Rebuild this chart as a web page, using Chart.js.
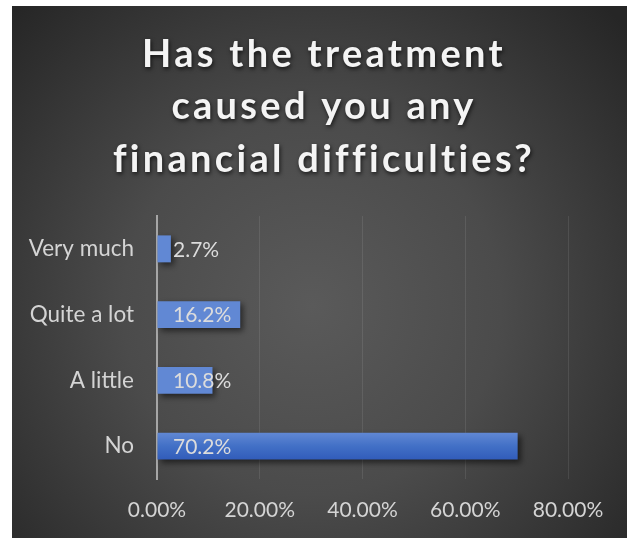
<!DOCTYPE html>
<html>
<head>
<meta charset="utf-8">
<script src="https://cdn.jsdelivr.net/npm/chart.js@4/dist/chart.umd.min.js"></script>
<style>
  html, body { margin: 0; padding: 0; background: #ffffff; }
  #wrap { position: absolute; left: 12px; top: 6px; width: 615px; height: 532px; }
</style>
</head>
<body>
<div id="wrap"><canvas id="chart"></canvas></div>
<script>
// Survey answers, shares in percent
const titleLines = ['Has the treatment', 'caused you any', 'financial difficulties?'];
const categories = ['Very much', 'Quite a lot', 'A little', 'No'];
const shares = [2.7, 16.2, 10.8, 70.2];
const shareLabels = ['2.7%', '16.2%', '10.8%', '70.2%'];
const axisTicks = [0, 20, 40, 60, 80];

const FONT = 'Lato, "Open Sans", sans-serif';

// Dark radial backdrop behind the whole chart
const backdrop = {
  id: 'backdrop',
  beforeDraw(chart) {
    const { ctx, width, height } = chart;
    const g = ctx.createRadialGradient(300, 300, 0, 300, 300, 420);
    g.addColorStop(0, '#5a5a5a');
    g.addColorStop(0.45, '#4b4b4b');
    g.addColorStop(1, '#262626');
    ctx.save();
    ctx.fillStyle = g;
    ctx.fillRect(0, 0, width, height);
    ctx.restore();
  }
};

// Spaced, shadowed heading drawn in the reserved top band
const heading = {
  id: 'heading',
  afterDraw(chart) {
    const { ctx } = chart;
    ctx.save();
    ctx.font = 'bold 38px ' + FONT;
    ctx.letterSpacing = '3.3px';
    ctx.textAlign = 'center';
    ctx.textBaseline = 'alphabetic';
    ctx.fillStyle = '#f4f4f4';
    ctx.shadowColor = 'rgba(0,0,0,0.7)';
    ctx.shadowBlur = 4;
    ctx.shadowOffsetX = 1;
    ctx.shadowOffsetY = 2;
    const baselines = [61, 113, 165.5];
    titleLines.forEach((t, i) => ctx.fillText(t, 312, baselines[i]));
    ctx.restore();
  }
};

// Vertical gradient fill and soft drop shadow for each bar
const barStyle = {
  id: 'barStyle',
  beforeDatasetsDraw(chart) {
    const { ctx } = chart;
    chart.getDatasetMeta(0).data.forEach(bar => {
      const top = bar.y - bar.height / 2;
      const g = ctx.createLinearGradient(0, top, 0, top + bar.height);
      g.addColorStop(0, '#6188d4');
      g.addColorStop(0.5, '#4270c6');
      g.addColorStop(1, '#315cba');
      bar.options.backgroundColor = g;
    });
    ctx.save();
    ctx.shadowColor = 'rgba(0,0,0,0.55)';
    ctx.shadowBlur = 6;
    ctx.shadowOffsetX = 3;
    ctx.shadowOffsetY = 3;
  },
  afterDatasetsDraw(chart) {
    chart.ctx.restore();
  }
};

// Value labels placed just inside the bar base
const valueLabels = {
  id: 'valueLabels',
  afterDatasetsDraw(chart) {
    const { ctx } = chart;
    const xScale = chart.scales.x;
    ctx.save();
    ctx.font = '21px ' + FONT;
    ctx.fillStyle = '#dcdcdc';
    ctx.textAlign = 'left';
    ctx.textBaseline = 'middle';
    chart.getDatasetMeta(0).data.forEach((bar, i) => {
      ctx.fillText(shareLabels[i], xScale.getPixelForValue(0) + 16, bar.y + 1);
    });
    ctx.restore();
  }
};

new Chart(document.getElementById('chart'), {
  type: 'bar',
  data: {
    labels: categories,
    datasets: [{
      data: shares,
      backgroundColor: '#4472c4',
      borderWidth: 0,
      categoryPercentage: 1,
      barPercentage: 0.41
    }]
  },
  options: {
    indexAxis: 'y',
    responsive: true,
    maintainAspectRatio: false,
    animation: false,
    layout: { padding: { top: 210, right: 59, bottom: 14, left: 0 } },
    plugins: {
      legend: { display: false },
      title: { display: false },
      tooltip: { enabled: false }
    },
    scales: {
      x: {
        min: axisTicks[0],
        max: axisTicks[axisTicks.length - 1],
        afterBuildTicks(scale) { scale.ticks = axisTicks.map(v => ({ value: v })); },
        afterFit(scale) { scale.height = 45; },
        grid: { color: 'rgba(255,255,255,0.09)', lineWidth: 1, drawTicks: false },
        border: { display: false },
        ticks: {
          padding: 19,
          color: '#d4d4d4',
          font: { family: FONT, size: 21 },
          callback: v => v.toFixed(2) + '%'
        }
      },
      y: {
        afterFit(scale) { scale.width = 145; },
        grid: { display: false, drawTicks: false },
        border: { display: true, color: '#a6a6a6', width: 2 },
        ticks: {
          padding: 23,
          color: '#d4d4d4',
          font: { family: FONT, size: 22.5 }
        }
      }
    }
  },
  plugins: [backdrop, barStyle, valueLabels, heading]
});
</script>
</body>
</html>
